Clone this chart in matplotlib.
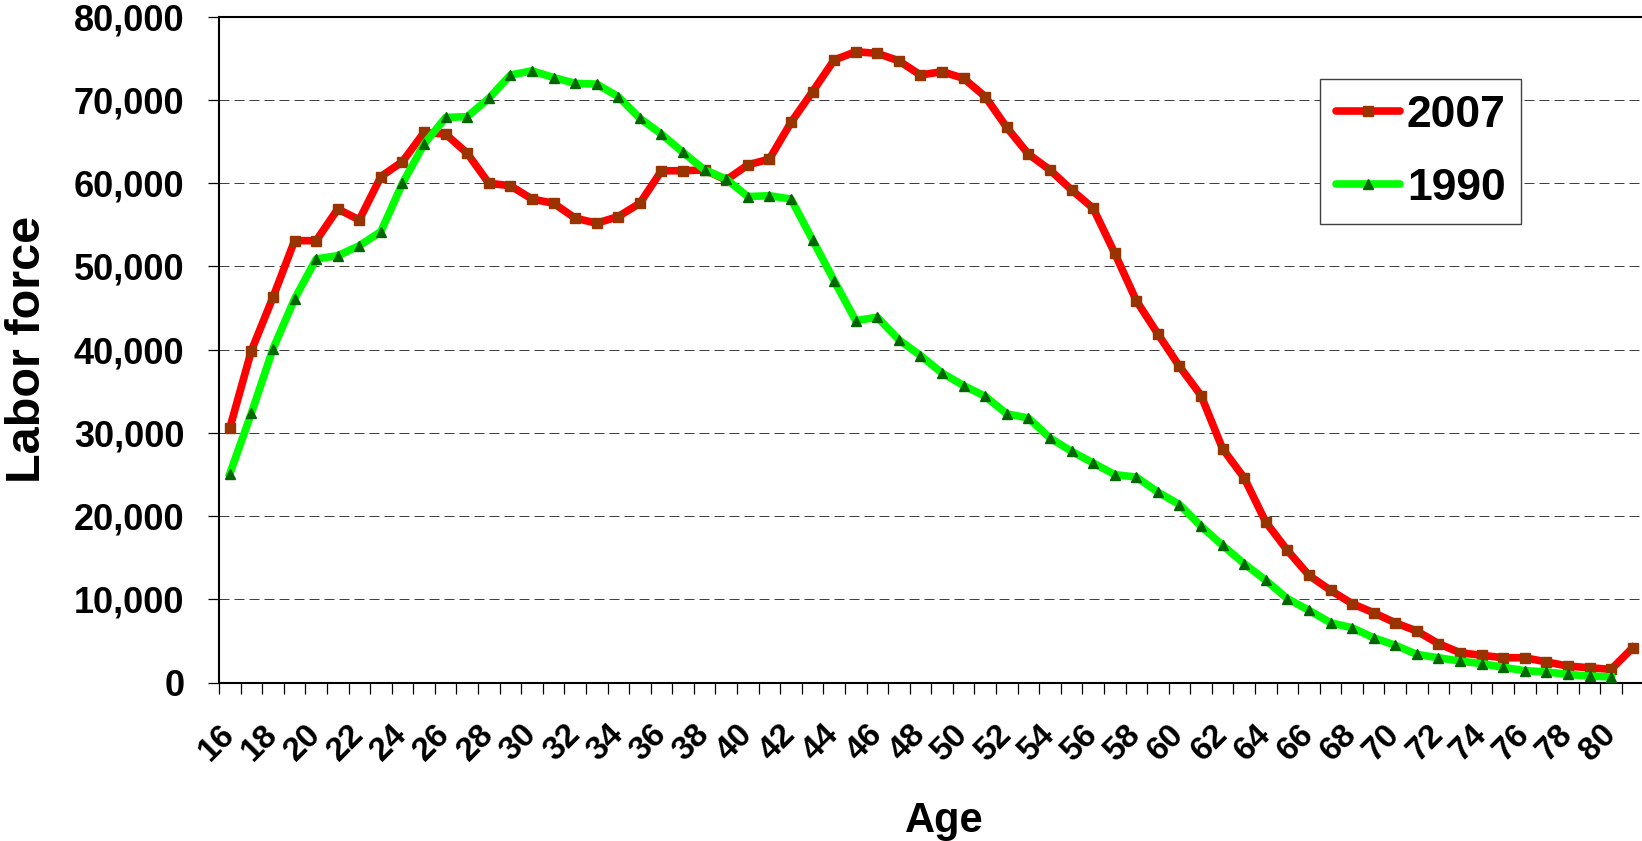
import matplotlib.pyplot as plt
from matplotlib.ticker import FuncFormatter, MultipleLocator
import numpy as np

plt.rcParams['font.family'] = ['Liberation Sans', 'DejaVu Sans']
plt.rcParams['font.weight'] = 'bold'

# labor force by single year of age
ages_2007 = list(range(16, 82))
labor_2007 = [30600, 39900, 46300, 53100, 53100, 56900, 55600, 60800, 62600, 66100,
              65900, 63600, 60000, 59700, 58100, 57600, 55800, 55200, 56000, 57600,
              61500, 61500, 61600, 60400, 62200, 62900, 67300, 71000, 74800, 75800,
              75600, 74700, 73000, 73400, 72600, 70400, 66700, 63500, 61600, 59200,
              57000, 51600, 45900, 41900, 38000, 34500, 28100, 24600, 19300, 15900,
              12900, 11100, 9500, 8400, 7200, 6200, 4700, 3600, 3300, 3000,
              3000, 2500, 2000, 1800, 1600, 4200]

ages_1990 = list(range(16, 81))
labor_1990 = [25100, 32400, 40100, 46100, 50900, 51300, 52500, 54200, 60000, 64700,
              67900, 68000, 70200, 73000, 73500, 72700, 72000, 71900, 70400, 67800,
              65900, 63700, 61600, 60500, 58400, 58500, 58100, 53200, 48300, 43500,
              43900, 41200, 39300, 37200, 35700, 34400, 32300, 31800, 29400, 27800,
              26400, 25000, 24700, 22900, 21400, 18800, 16500, 14300, 12300, 10100,
              8700, 7200, 6600, 5400, 4500, 3400, 3000, 2600, 2300, 1850,
              1450, 1300, 1000, 800, 700]

age_labels = list(range(16, 81, 2))

fig = plt.figure(figsize=(16.42, 8.41), dpi=100)
ax = fig.add_axes([0.1334, 0.1882, 0.8675, 0.7919])

ax.plot(ages_2007, labor_2007, color='#FF0000', lw=5.5, marker='s', ms=6.5,
        mfc='#993300', mec='#993300', label='2007', zorder=3)
ax.plot(ages_1990, labor_1990, color='#00FF00', lw=5.5, marker='^', ms=7,
        mfc='#006600', mec='#006600', label='1990', zorder=4)

ax.set_xlim(15.5, 81.5)
ax.set_ylim(0, 80000)
ax.yaxis.set_major_locator(MultipleLocator(10000))
ax.yaxis.set_major_formatter(FuncFormatter(lambda v, p: f'{int(v):,}'))
ax.grid(axis='y', color='#404040', lw=0.72, linestyle=(0, (10, 5)))
ax.set_axisbelow(True)

ax.set_xticks(age_labels)
ax.set_xticklabels([str(a) for a in age_labels])
ax.set_xticks(np.arange(15.5, 82, 1), minor=True)
ax.tick_params(axis='x', which='major', length=0, pad=34, labelsize=24)
ax.tick_params(axis='x', which='minor', length=8, width=0.9, direction='out')
ax.tick_params(axis='y', length=8, width=0.9, direction='out', pad=17, labelsize=26)
plt.setp(ax.get_xticklabels(), rotation=45, ha='right', va='center', rotation_mode='anchor')

for side in ['left', 'bottom', 'top']:
    ax.spines[side].set_linewidth(1.5)
ax.spines['right'].set_visible(False)

ax.set_xlabel('Age', fontsize=30, fontweight='bold')
ax.xaxis.set_label_coords(0.509, -0.2237)
ax.xaxis.label.set_verticalalignment('baseline')
ax.set_ylabel('Labor force', fontsize=35, fontweight='bold')
ax.yaxis.set_label_coords(-0.1257, 0.5)
ax.yaxis.label.set_verticalalignment('baseline')

leg = ax.legend(loc='upper left', bbox_to_anchor=(0.773, 0.9065), borderaxespad=0,
                handlelength=1.45, handletextpad=0.15, borderpad=0.35,
                labelspacing=0.72, fancybox=False, framealpha=1,
                prop={'weight': 'bold', 'size': 32})
leg.get_frame().set_edgecolor('#404040')
leg.get_frame().set_linewidth(1.0)
for h in leg.get_lines():
    h.set_solid_capstyle('round')

fig.savefig('out.png', dpi=100)
